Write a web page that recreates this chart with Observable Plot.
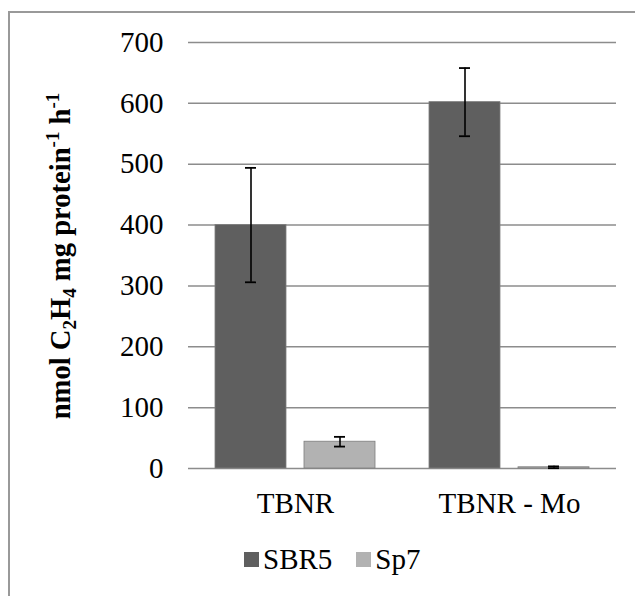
<!DOCTYPE html>
<html>
<head>
<meta charset="utf-8">
<script src="https://cdn.jsdelivr.net/npm/d3@7"></script>
<script src="https://cdn.jsdelivr.net/npm/@observablehq/plot@0.6"></script>
<style>
  html, body { margin: 0; padding: 0; background: #fff; overflow: hidden; }
  #wrap { position: relative; width: 635px; height: 596px; overflow: hidden; font-family: 'Liberation Serif', serif; }
  #frame { position: absolute; left: 8px; top: 11px; width: 700px; height: 700px; border: 2px solid #999; box-sizing: border-box; }
  #chart { position: absolute; left: 0; top: 0; }
  #legend { position: absolute; left: 244px; top: 542px; display: flex; align-items: center; font-size: 29px; color: #000; line-height: 34px; font-family: 'Liberation Serif', serif; }
  .sw { width: 15px; height: 15px; display: inline-block; margin-right: 4px; }
  .item { display: flex; align-items: center; margin-right: 24px; }
  svg text { font-family: 'Liberation Serif', serif; }
</style>
</head>
<body>
<div id="wrap">
  <div id="frame"></div>
  <div id="chart"></div>
  <div id="legend"></div>
</div>
<script>
const groups = ["TBNR", "TBNR - Mo"];
const strains = ["SBR5", "Sp7"];
const sbr5Means = [400, 602];
const sbr5Errors = [94, 56];
const sp7Means = [44, 2];
const sp7Errors = [8, 1.5];
const yTicks = [0, 100, 200, 300, 400, 500, 600, 700];
const colors = ["#5f5f5f", "#b2b2b2"];
const serif = "'Liberation Serif', serif";

const data = [];
groups.forEach((g, i) => {
  data.push({group: g, strain: "SBR5", mean: sbr5Means[i], lo: sbr5Means[i] - sbr5Errors[i], hi: sbr5Means[i] + sbr5Errors[i]});
  data.push({group: g, strain: "Sp7", mean: sp7Means[i], lo: sp7Means[i] - sp7Errors[i], hi: sp7Means[i] + sp7Errors[i]});
});

const chart = Plot.plot({
  width: 635,
  height: 530,
  marginLeft: 187,
  marginRight: 19,
  marginTop: 42,
  marginBottom: 62,
  style: {fontFamily: serif, fontSize: "29px", background: "transparent", color: "#000"},
  fx: {domain: groups, padding: 0, label: null, axis: "bottom", tickSize: 0, tickPadding: 24},
  x: {domain: strains, paddingInner: 0.2, paddingOuter: 0.289, axis: null},
  y: {domain: [0, 700], ticks: yTicks, label: null, tickSize: 0, tickPadding: 25},
  color: {domain: strains, range: colors},
  marks: [
    Plot.ruleY(yTicks, {stroke: "#8c8c8c", strokeWidth: 1.5}),
    Plot.barY(data, {fx: "group", x: "strain", y: "mean", fill: "strain", stroke: "#7d7d7d", strokeWidth: 0.8}),
    Plot.ruleX(data, {fx: "group", x: "strain", y1: "lo", y2: "hi", stroke: "#000", strokeWidth: 1.6}),
    Plot.tickY(data, {fx: "group", x: "strain", y: "hi", insetLeft: 30, insetRight: 30, stroke: "#000", strokeWidth: 1.8}),
    Plot.tickY(data, {fx: "group", x: "strain", y: "lo", insetLeft: 30, insetRight: 30, stroke: "#000", strokeWidth: 1.8})
  ]
});
document.getElementById("chart").appendChild(chart);
d3.select(chart).selectAll("text").style("font-family", serif);

// Y-axis title with subscripts / superscripts
const svg = d3.select(chart);
const t = svg.append("text")
  .attr("transform", "translate(70,256) rotate(-90)")
  .attr("text-anchor", "middle")
  .attr("font-weight", "bold")
  .attr("font-size", 28.6)
  .attr("fill", "#000")
  .style("font-family", serif);
const parts = [
  ["nmol C", 0], ["2", 1], ["H", 0], ["4", 1], [" mg protein", 0], ["-1", -1], [" h", 0], ["-1", -1]
];
let shift = 0;
parts.forEach(([s, k]) => {
  const target = k === 1 ? 6 : k === -1 ? -11 : 0;
  const ts = t.append("tspan").text(s).attr("dy", target - shift);
  if (k !== 0) ts.attr("font-size", 19);
  shift = target;
});

// Legend
const legend = d3.select("#legend");
strains.forEach((s, i) => {
  const item = legend.append("div").attr("class", "item");
  item.append("span").attr("class", "sw").style("background", colors[i]);
  item.append("span").text(s).style("font-family", serif);
});
</script>
</body>
</html>
